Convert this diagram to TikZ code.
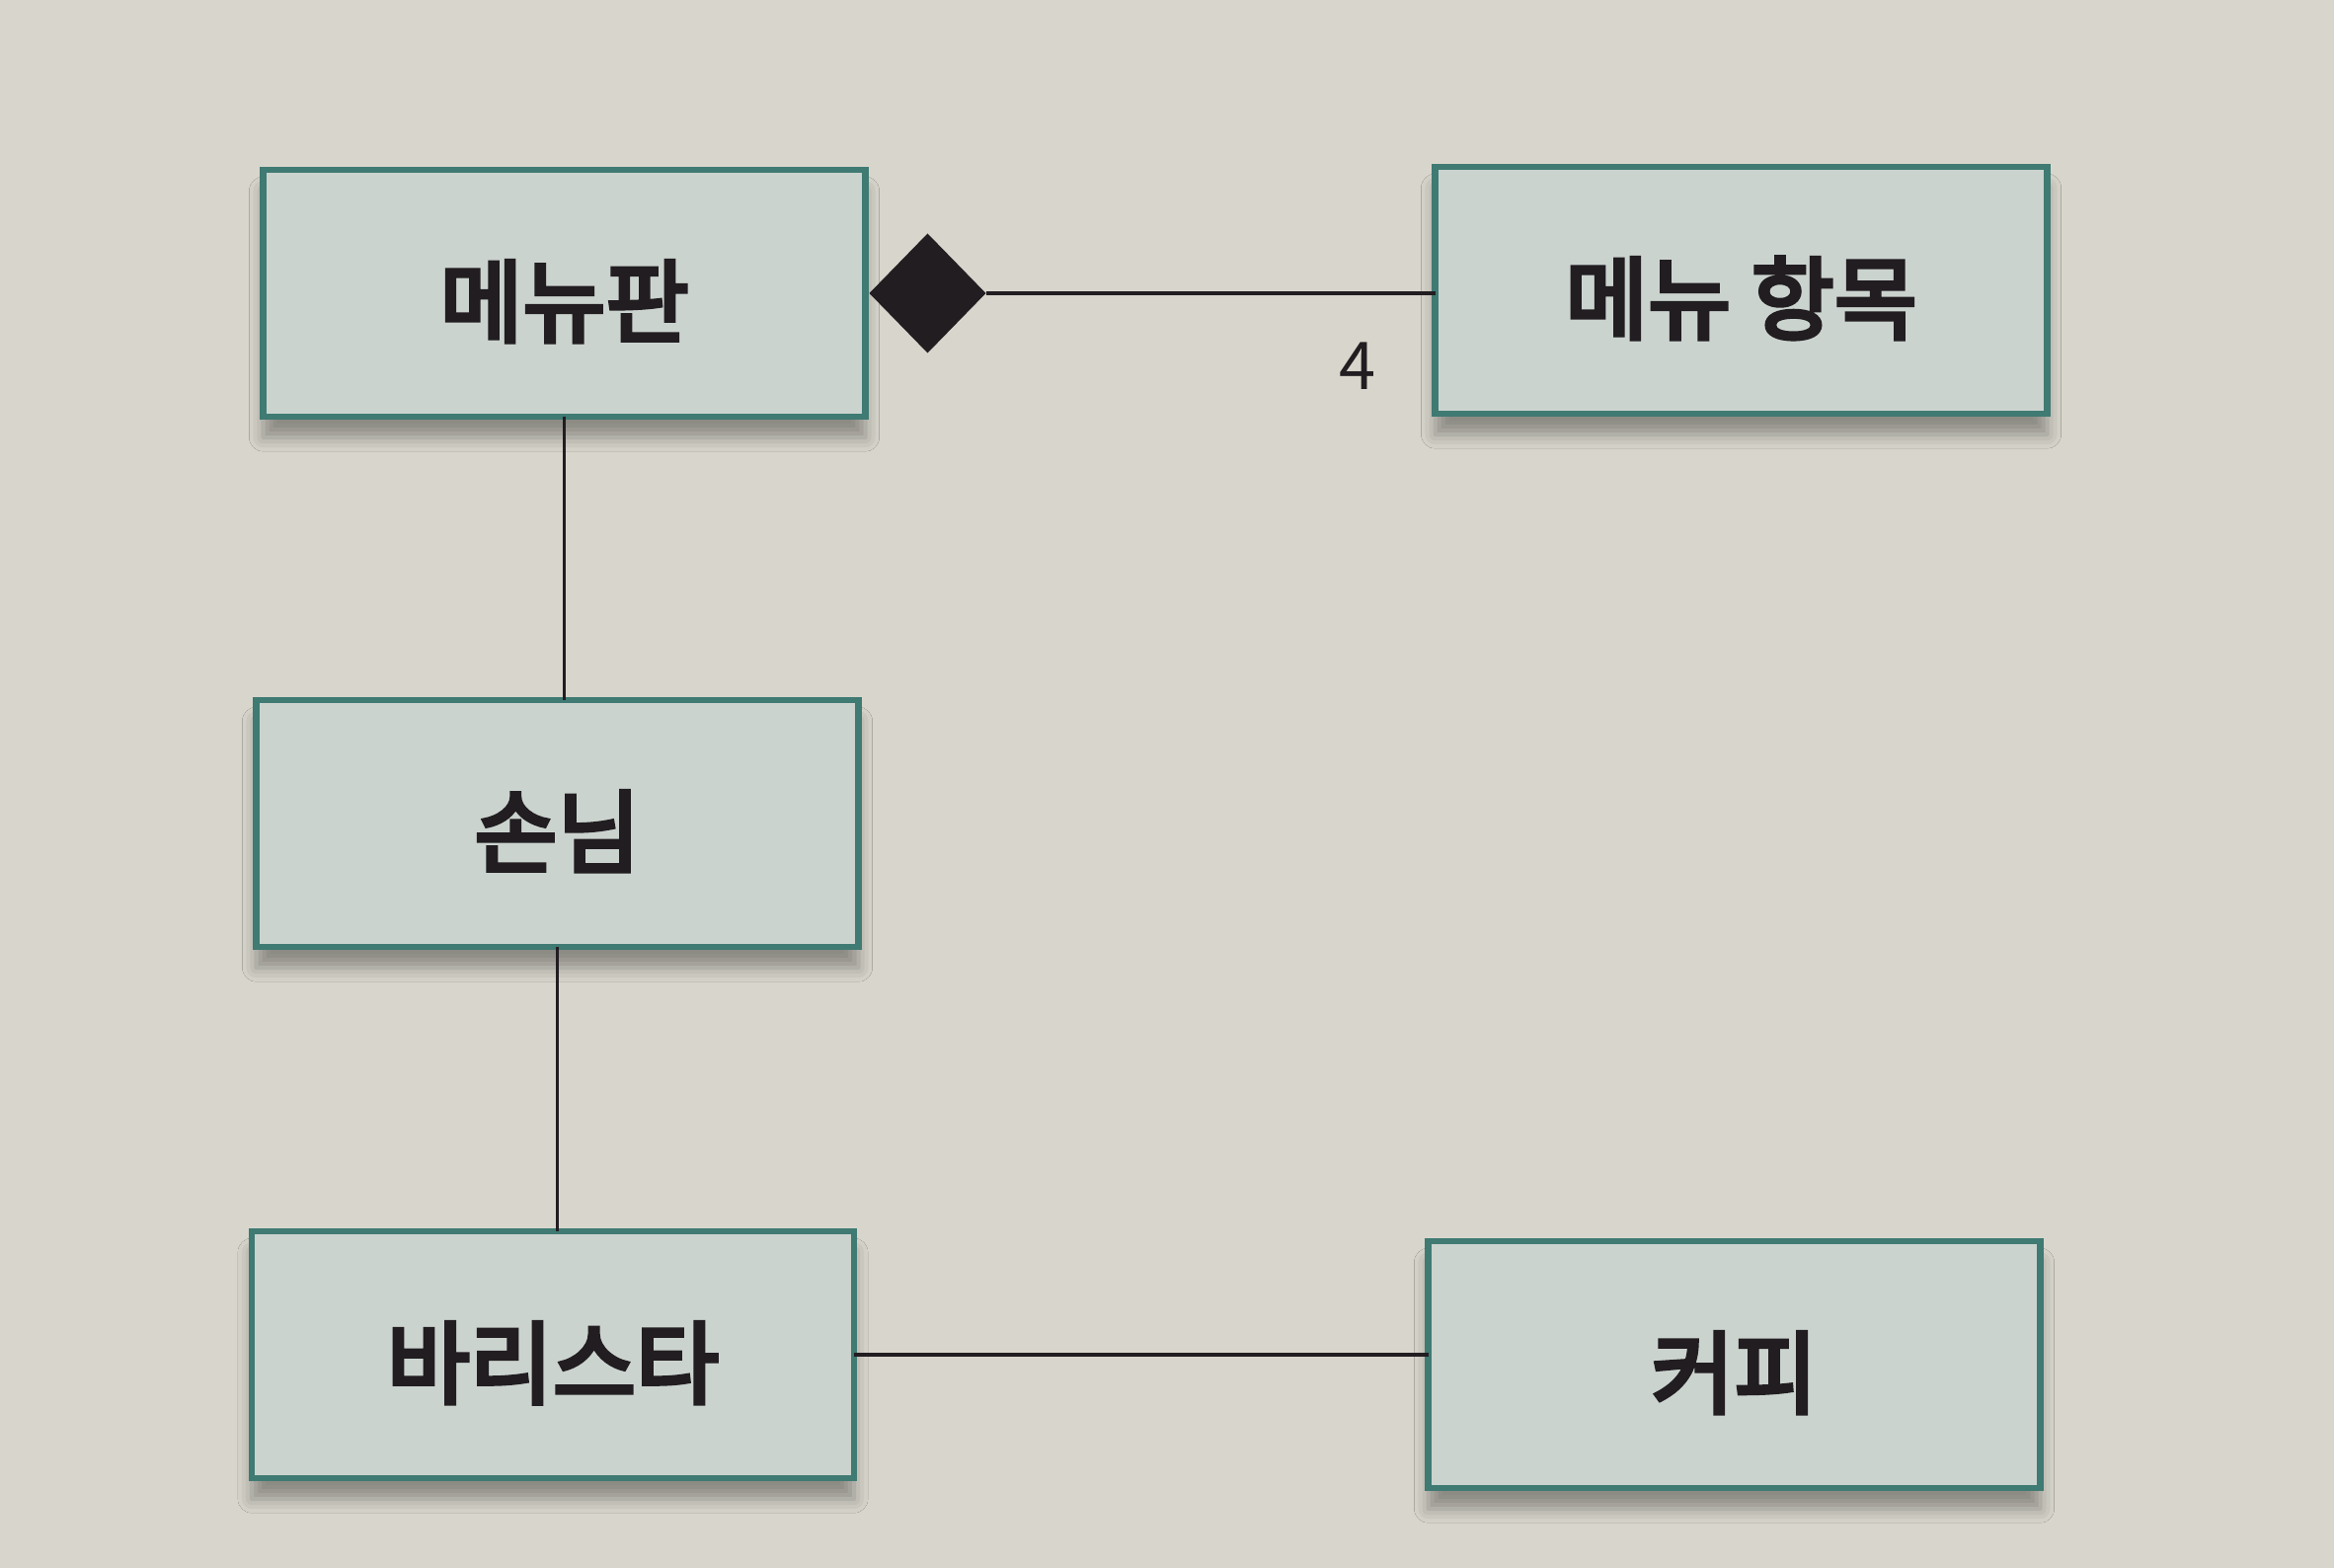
\documentclass[tikz,border=0pt]{standalone}
\usepackage{fontspec}
\newfontfamily\kr[FakeBold=4.6]{Noto Sans CJK KR}
\newfontfamily\krlight{Noto Sans CJK KR}
\usetikzlibrary{shapes.geometric}
\usetikzlibrary{shadows.blur}
\definecolor{paper}{HTML}{D8D6CC}
\definecolor{boxfill}{HTML}{CBD3CE}
\definecolor{boxline}{HTML}{3F7A73}
\definecolor{ink}{HTML}{211D21}

\begin{document}
\begin{tikzpicture}[inner sep=0pt,outer sep=0pt,line width=1.1pt,
classbox/.style={draw=boxline,fill=boxfill,rectangle,line width=1.8pt,minimum width=6.1cm,minimum height=2.5cm,
  blur shadow={shadow xshift=0pt,shadow yshift=-6pt,shadow blur radius=4pt,shadow opacity=35},
  font=\kr\fontsize{26}{30}\selectfont,text=ink,text height=0.95cm,text depth=0.1cm}]

\fill[paper] (0,0) rectangle (23.64,-15.88);
\useasboundingbox (0,0) rectangle (23.64,-15.88);

\draw (5.715,-2.97) node[classbox] (board) {메뉴판};
\draw (17.635,-2.94) node[classbox,minimum width=6.2cm] (item) {메뉴 항목};
\draw (5.645,-8.34) node[classbox] (guest) {손님};
\draw (5.6,-13.72) node[classbox] (barista) {바리스타};
\draw (17.565,-13.82) node[classbox,minimum width=6.2cm] (coffee) {커피};
\draw (board.east) ++(0.04,0) node[diamond,fill=ink,anchor=west,minimum width=1.18cm,minimum height=1.21cm] (comp) {};
\draw (13.75,-3.71) node[font=\krlight\fontsize{19}{22}\selectfont,text=ink] (mult) {4};

\draw[ink] (comp.east) -- (comp.east -| item.west);
\draw[ink] (board.south) -- (board.south |- guest.north);
\draw[ink] (guest.south) -- (guest.south |- barista.north);
\draw[ink] (barista.east) -- (barista.east -| coffee.west);
\end{tikzpicture}
\end{document}
